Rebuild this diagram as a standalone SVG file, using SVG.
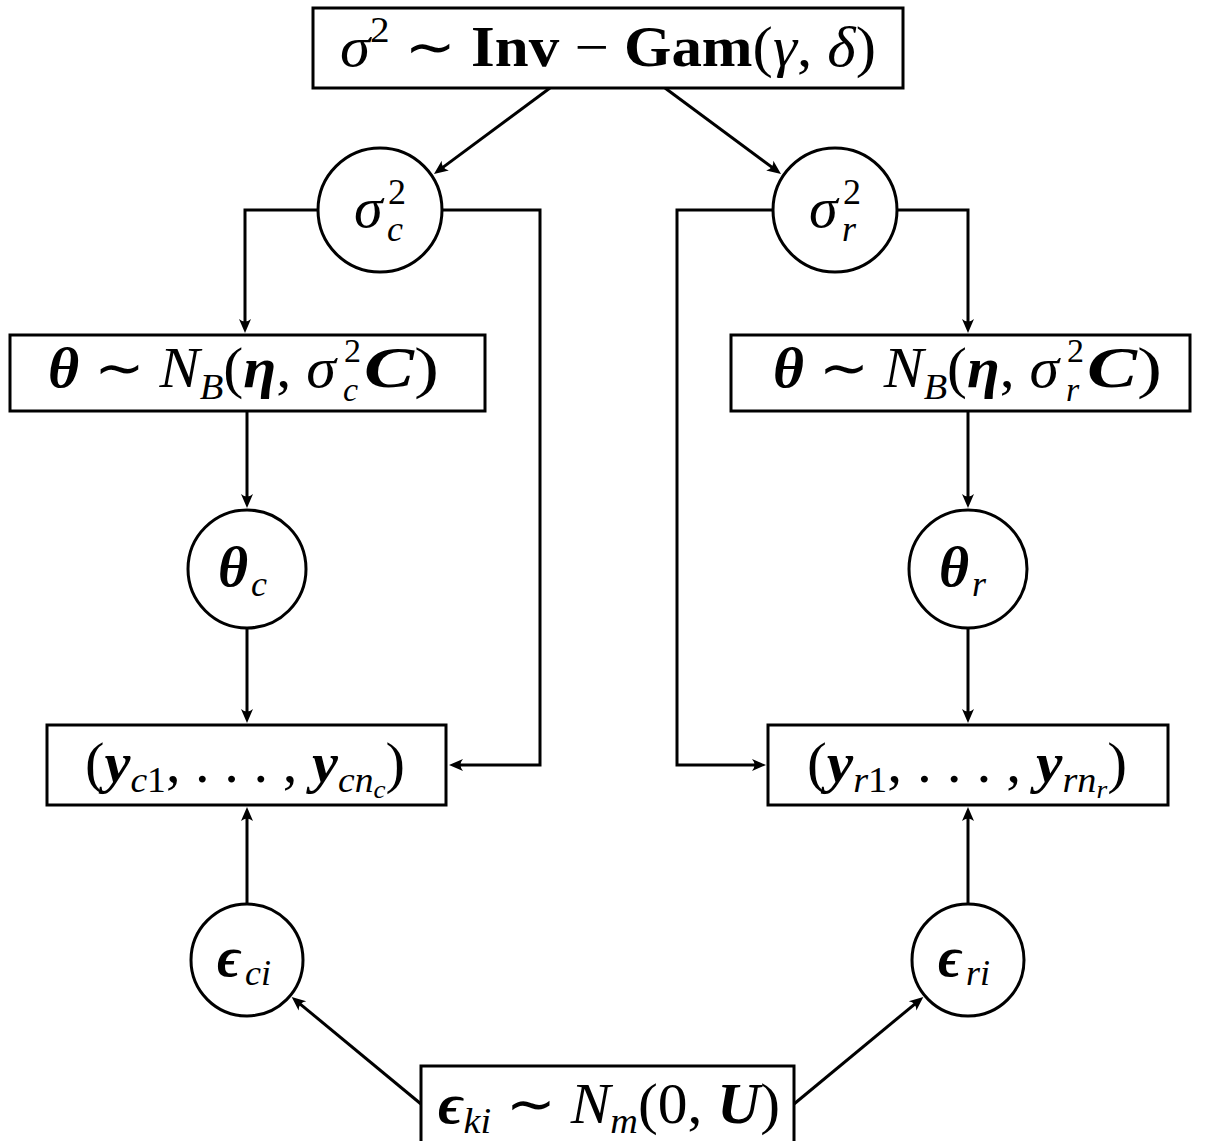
<svg xmlns="http://www.w3.org/2000/svg" width="1217" height="1141" viewBox="0 0 1217 1141">
<style>
text{font-family:"Liberation Serif","DejaVu Serif",serif;fill:#000}
.i{font-style:italic}
.bi{font-style:italic;font-weight:bold}
.b{font-weight:bold}
.op{font-family:"DejaVu Sans",sans-serif;font-weight:normal;font-style:normal}
.box{fill:#fff;stroke:#000;stroke-width:3}
.nd{fill:#fff;stroke:#000;stroke-width:3}
.cn{fill:none;stroke:#000;stroke-width:3;marker-end:url(#arr)}
</style>
<defs>
<marker id="arr" viewBox="-16 -7 20 14" refX="-6" refY="0" markerWidth="20" markerHeight="14" markerUnits="userSpaceOnUse" orient="auto">
<path d="M0,0 L-14,-6 Q-9,0 -14,6 Z" fill="#000"/>
</marker>
</defs>
<rect width="1217" height="1141" fill="#fff"/>
<g id="connectors">
<path class="cn" d="M550,88 L438.8,170.4"/>
<path class="cn" d="M665,88 L776.2,170.4"/>
<path class="cn" d="M318,210 H245 V327"/>
<path class="cn" d="M442,210 H540 V765 H455"/>
<path class="cn" d="M247,411 V502"/>
<path class="cn" d="M247,628 V717"/>
<path class="cn" d="M247,904 V813"/>
<path class="cn" d="M421,1104 L296.3,1000.8"/>
<path class="cn" d="M794,1104 L918.7,1000.8"/>
<path class="cn" d="M773,210 H677 V765 H760"/>
<path class="cn" d="M897,210 H968 V327"/>
<path class="cn" d="M968,411 V502"/>
<path class="cn" d="M968,628 V717"/>
<path class="cn" d="M968,904 V813"/>
</g>
<g id="prior">
<rect class="box" x="313" y="8" width="590" height="80"/>
<text x="340" y="66" font-size="56" textLength="536" lengthAdjust="spacingAndGlyphs"><tspan class="i">σ</tspan><tspan font-size="36" dy="-24">2</tspan><tspan dy="24"> </tspan><tspan class="op">∼</tspan> <tspan class="b">Inv</tspan> − <tspan class="b">Gam</tspan>(<tspan class="i">γ</tspan>, <tspan class="i">δ</tspan>)</text>
</g>
<g id="sigma_c">
<circle class="nd" cx="380" cy="210" r="62"/>
<text x="354" y="227" font-size="58" class="i">σ</text>
<text x="388" y="204" font-size="36">2</text>
<text x="387" y="241" font-size="36" class="i">c</text>
</g>
<g id="sigma_r">
<circle class="nd" cx="835" cy="210" r="62"/>
<text x="809" y="227" font-size="58" class="i">σ</text>
<text x="843" y="204" font-size="36">2</text>
<text x="842" y="241" font-size="36" class="i">r</text>
</g>
<g id="theta_prior_c">
<rect class="box" x="10" y="335" width="475" height="76"/>
<text x="48" y="387" font-size="56" textLength="288" lengthAdjust="spacingAndGlyphs"><tspan class="bi">θ</tspan> <tspan class="op">∼</tspan> <tspan class="i">N</tspan><tspan class="i" font-size="36" dy="12">B</tspan><tspan dy="-12">(</tspan><tspan class="bi">η</tspan>, <tspan class="i">σ</tspan></text>
<text x="344" y="362" font-size="34">2</text>
<text x="343" y="401" font-size="34" class="i">c</text>
<text x="364" y="387" font-size="58" textLength="75" lengthAdjust="spacingAndGlyphs"><tspan class="bi">C</tspan>)</text>
</g>
<g id="theta_prior_r">
<rect class="box" x="731" y="335" width="459" height="76"/>
<text x="773" y="387" font-size="56" textLength="286" lengthAdjust="spacingAndGlyphs"><tspan class="bi">θ</tspan> <tspan class="op">∼</tspan> <tspan class="i">N</tspan><tspan class="i" font-size="36" dy="12">B</tspan><tspan dy="-12">(</tspan><tspan class="bi">η</tspan>, <tspan class="i">σ</tspan></text>
<text x="1067" y="362" font-size="34">2</text>
<text x="1066" y="401" font-size="34" class="i">r</text>
<text x="1087" y="387" font-size="58" textLength="75" lengthAdjust="spacingAndGlyphs"><tspan class="bi">C</tspan>)</text>
</g>
<g id="theta_c">
<circle class="nd" cx="247" cy="569" r="59"/>
<text x="218" y="586" font-size="58" class="bi">θ</text>
<text x="251" y="596" font-size="36" class="i">c</text>
</g>
<g id="theta_r">
<circle class="nd" cx="968" cy="569" r="59"/>
<text x="939" y="586" font-size="58" class="bi">θ</text>
<text x="972" y="596" font-size="36" class="i">r</text>
</g>
<g id="y_c">
<rect class="box" x="47" y="725" width="399" height="80"/>
<text x="85" y="782" font-size="56" textLength="320" lengthAdjust="spacingAndGlyphs">(<tspan class="bi">y</tspan><tspan font-size="36" dy="10"><tspan class="i">c</tspan>1</tspan><tspan dy="-10">, . . . , </tspan><tspan class="bi">y</tspan><tspan class="i" font-size="36" dy="10">cn</tspan><tspan class="i" font-size="26" dy="6">c</tspan><tspan dy="-16">)</tspan></text>
</g>
<g id="y_r">
<rect class="box" x="768" y="725" width="400" height="80"/>
<text x="807" y="782" font-size="56" textLength="320" lengthAdjust="spacingAndGlyphs">(<tspan class="bi">y</tspan><tspan font-size="36" dy="10"><tspan class="i">r</tspan>1</tspan><tspan dy="-10">, . . . , </tspan><tspan class="bi">y</tspan><tspan class="i" font-size="36" dy="10">rn</tspan><tspan class="i" font-size="26" dy="6">r</tspan><tspan dy="-16">)</tspan></text>
</g>
<g id="eps_c">
<circle class="nd" cx="247" cy="960" r="56"/>
<text x="217" y="976" font-size="56" class="bi">ϵ</text>
<text x="245" y="985" font-size="36" class="i">ci</text>
</g>
<g id="eps_r">
<circle class="nd" cx="968" cy="960" r="56"/>
<text x="938" y="976" font-size="56" class="bi">ϵ</text>
<text x="966" y="985" font-size="36" class="i">ri</text>
</g>
<g id="eps_prior">
<rect class="box" x="421" y="1066" width="373" height="90"/>
<text x="438" y="1123" font-size="56" textLength="342" lengthAdjust="spacingAndGlyphs"><tspan class="bi">ϵ</tspan><tspan class="i" font-size="36" dy="10">ki</tspan><tspan dy="-10"> </tspan><tspan class="op">∼</tspan> <tspan class="i">N</tspan><tspan class="i" font-size="36" dy="10">m</tspan><tspan dy="-10">(0, </tspan><tspan class="bi">U</tspan>)</text>
</g>
</svg>
